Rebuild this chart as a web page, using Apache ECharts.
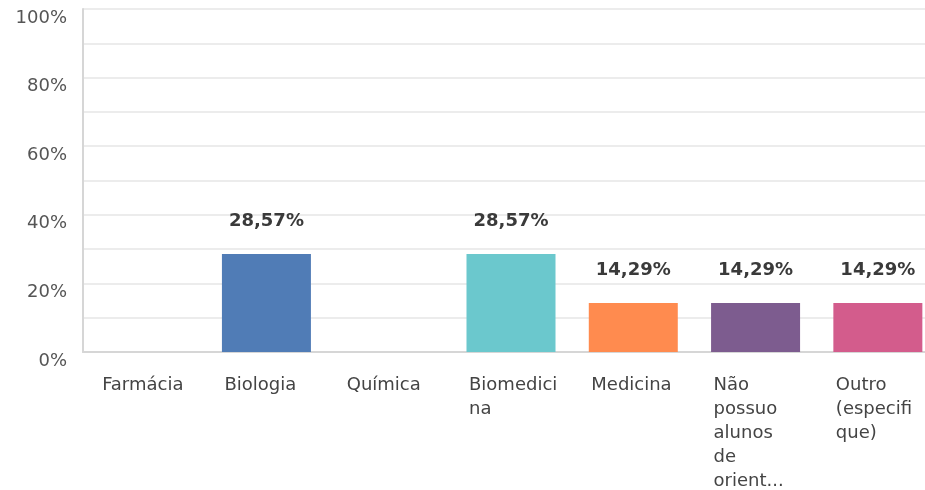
<!DOCTYPE html>
<html>
<head>
<meta charset="utf-8">
<script src="https://cdn.jsdelivr.net/npm/echarts@6/dist/echarts.min.js"></script>
<style>
  html, body { margin: 0; padding: 0; background: #fff; }
  #chart { width: 925px; height: 490px; }
</style>
</head>
<body>
<div id="chart"></div>
<script>
// respostas (percentual)
var categories = ['Farmácia', 'Biologia', 'Química', 'Biomedicina', 'Medicina', 'Não possuo alunos de orient...', 'Outro (especifique)'];
var tickLabels = ['Farmácia', 'Biologia', 'Química', 'Biomedici\nna', 'Medicina', 'Não\npossuo\nalunos\nde\norient...', 'Outro\n(especifi\nque)'];
var values = [0, 28.57, 0, 28.57, 14.29, 14.29, 14.29];
var colors = ['#507cb6', '#507cb6', '#6bc8cd', '#6bc8cd', '#ff8b4f', '#7d5c8f', '#d35c8c'];

var myChart = echarts.init(document.getElementById('chart'));

var option = {
  animation: false,
  textStyle: { fontFamily: 'DejaVu Sans' },
  grid: { left: 83, width: 856, top: 9, bottom: 138, containLabel: false, outerBoundsMode: 'none' },
  xAxis: {
    type: 'category',
    data: categories,
    axisTick: { show: false },
    axisLine: { lineStyle: { color: '#d6d6d6', width: 2 } },
    axisLabel: {
      align: 'left',
      margin: 21,
      fontSize: 18,
      lineHeight: 24,
      color: '#444',
      interval: 0,
      // desloca o rótulo para começar na borda esquerda da barra
      padding: [0, 0, 0, -42],
      formatter: function (v, i) { return tickLabels[i]; }
    }
  },
  yAxis: {
    type: 'value',
    min: 0,
    max: 100,
    interval: 10,
    axisLine: { show: true, lineStyle: { color: '#d6d6d6', width: 2 } },
    axisTick: { show: false },
    splitLine: { lineStyle: { color: '#ececec', width: 2 } },
    axisLabel: {
      margin: 16,
      fontSize: 18,
      color: '#555',
      verticalAlign: 'top',
      formatter: function (v) { return v % 20 === 0 ? v + '%' : ''; }
    }
  },
  series: [{
    type: 'bar',
    barWidth: 89,
    data: values.map(function (v, i) {
      return { value: v, itemStyle: { color: colors[i] } };
    }),
    label: {
      show: true,
      position: 'top',
      distance: 24,
      fontSize: 18,
      fontWeight: 'bold',
      color: '#3a3a3a',
      formatter: function (p) {
        return p.value > 0 ? p.value.toFixed(2).replace('.', ',') + '%' : '';
      }
    }
  }]
};

myChart.setOption(option);
window.addEventListener('resize', function () { myChart.resize(); });
</script>
</body>
</html>
